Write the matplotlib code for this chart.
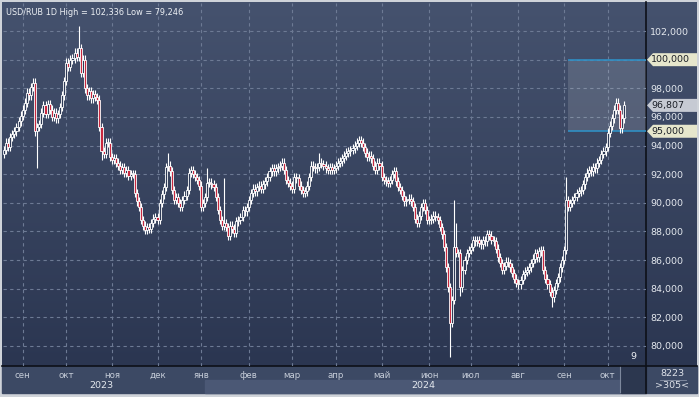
import numpy as np
import pandas as pd
import matplotlib
matplotlib.use('Agg')
import matplotlib.pyplot as plt
from matplotlib.patches import Rectangle, Polygon
from matplotlib.colors import LinearSegmentedColormap

# ---------------- data ----------------
start_date = '2023-08-21'
first_open = 93.4
closes = [
    93.7, 94.2, 93.9, 94.6, 94.8, 95.0, 95.3, 95.7, 96.1, 96.5,
    97.0, 97.7, 97.5, 98.1, 98.4, 95.0, 95.3, 95.5, 96.3, 96.8,
    96.2, 96.9, 96.5, 96.0, 96.3, 95.9, 96.2, 96.7, 97.5, 98.5,
    99.8, 99.5, 100.0, 100.1, 100.5, 100.2, 100.8, 99.1, 100.0, 98.0,
    97.5, 97.8, 97.3, 97.6, 97.4, 97.2, 95.3, 93.6, 93.4, 94.2,
    94.2, 93.2, 93.0, 93.1, 92.8, 92.6, 92.3, 92.5, 92.1, 92.3,
    91.9, 92.0, 92.0, 90.7, 90.1, 89.7, 88.8, 88.4, 88.1, 88.3,
    88.2, 88.6, 88.9, 89.0, 88.8, 90.0, 90.6, 91.1, 92.5, 92.6,
    92.2, 90.9, 90.2, 90.4, 90.0, 89.7, 90.2, 90.5, 90.9, 92.1,
    92.3, 92.0, 91.8, 91.6, 91.2, 89.7, 90.0, 90.4, 91.4, 91.4,
    91.3, 91.1, 90.4, 89.5, 88.8, 88.4, 88.6, 88.3, 87.7, 88.4,
    88.2, 87.9, 88.7, 88.8, 89.0, 89.5, 89.4, 89.7, 90.2, 90.7,
    91.0, 90.8, 91.1, 91.2, 91.0, 91.3, 91.5, 91.8, 92.2, 92.4,
    92.2, 92.4, 92.5, 92.6, 92.8, 92.3, 91.6, 91.4, 91.2, 91.0,
    91.8, 91.7, 91.2, 90.9, 90.7, 90.8, 91.2, 91.8, 92.6, 92.5,
    92.4, 92.5, 92.8, 92.7, 92.6, 92.4, 92.3, 92.5, 92.3, 92.4,
    92.6, 92.8, 92.9, 93.1, 93.3, 93.5, 93.6, 93.7, 93.8, 94.0,
    94.2, 94.4, 94.2, 93.9, 93.5, 93.2, 93.3, 93.1, 92.6, 92.3,
    92.8, 92.6, 91.8, 91.6, 91.5, 91.4, 91.6, 92.0, 92.2, 91.5,
    91.1, 90.9, 90.5, 90.1, 90.2, 90.3, 90.1, 89.7, 88.9, 88.6,
    89.1, 89.7, 90.0, 89.5, 88.8, 88.8, 88.9, 89.1, 89.0, 88.8,
    88.3, 87.8, 86.9, 85.5, 84.1, 81.6, 83.2, 86.9, 86.5, 86.5,
    84.1, 85.3, 86.0, 86.5, 86.7, 86.9, 87.4, 87.3, 87.4, 87.2,
    87.1, 87.4, 87.3, 87.8, 87.7, 87.4, 87.3, 86.8, 86.2, 85.8,
    85.3, 85.6, 85.9, 85.8, 85.5, 85.1, 84.7, 84.4, 84.3, 84.6,
    85.0, 85.2, 85.3, 85.5, 85.8, 86.1, 86.5, 86.2, 86.6, 86.7,
    85.3, 84.7, 84.3, 83.8, 83.4, 83.9, 84.4, 84.8, 85.5, 86.0,
    86.7, 90.2, 89.7, 90.0, 90.2, 90.4, 90.7, 90.8, 90.9, 91.3,
    91.8, 92.1, 92.3, 92.2, 92.5, 92.4, 92.8, 93.0, 93.4, 93.6,
    93.9, 94.9, 95.4, 95.9, 96.5, 97.0, 96.5, 95.2, 95.9, 96.807,
]
wick_highs = {36: 102.336, 79: 93.5, 98: 92.4, 106: 91.7, 152: 93.5,
              217: 90.2, 218: 88.6, 271: 91.8}
wick_lows = {16: 92.4, 47: 93.0, 215: 79.246, 220: 83.5, 264: 82.7}
base_wick = 0.3

levels = [100.0, 95.0]
level_start_idx = 272
y_ticks = list(range(80, 103, 2))
month_names = ['янв', 'фев', 'мар', 'апр', 'май', 'июн',
               'июл', 'авг', 'сен', 'окт', 'ноя', 'дек']
symbol = 'USD/RUB 1D'
bars_count_label = '8223'
visible_label = '>305<'
scroll_label = '9'

# ---------------- derived ----------------
n = len(closes)
dates = pd.bdate_range(start_date, periods=n)
idx = np.arange(n)
opens = [first_open] + closes[:-1]
highs = [wick_highs.get(i, max(o, c) + base_wick) for i, (o, c) in enumerate(zip(opens, closes))]
lows = [wick_lows.get(i, min(o, c) - base_wick) for i, (o, c) in enumerate(zip(opens, closes))]

def fmt(v):
    return f'{v:.3f}'.replace('.', ',')

W, H = 699, 397
fig = plt.figure(figsize=(W / 100, H / 100), dpi=100, facecolor='#cfd3d9')

# background (pixel coords)
bg = fig.add_axes([0, 0, 1, 1], zorder=0)
bg.set_xlim(0, W); bg.set_ylim(H, 0); bg.axis('off')
cmap = LinearSegmentedColormap.from_list('g', ['#45526e', '#2b3651'])
bg.imshow(np.linspace(0, 1, 256).reshape(-1, 1), cmap=cmap, aspect='auto',
          extent=(2, 697, 366, 2), zorder=0)
bg.add_patch(Rectangle((2, 366), 695, 27, color='#3c4964', zorder=1))
bg.add_patch(Rectangle((205, 380), 415, 13, color='#4b5875', zorder=1))
bg.add_patch(Rectangle((621, 362), 25, 31, color='#2c374f', zorder=2))
bg.plot([620, 620], [366, 392], color='#7d889c', lw=0.8, zorder=3)
bg.plot([646, 646], [2, 393], color='#0d1018', lw=1.2, zorder=4)
bg.plot([2, 697], [366, 366], color='#0d1018', lw=1.2, zorder=4)
bg.plot([660, 686], [380, 380], color='#8a94a8', lw=0.6, zorder=4)
bg.text(672, 374, bars_count_label, color='#dfe3ea', fontsize=6.8, ha='center', va='center', zorder=5)
bg.text(672, 386, visible_label, color='#dfe3ea', fontsize=6.8, ha='center', va='center', zorder=5)

# main axes
ax = fig.add_axes([3 / W, 1 - 366 / H, 643 / W, 363 / H], zorder=1)
ax.set_facecolor('none')
ax.set_xlim(-0.5, 309.5)
ax.set_ylim(78.6, 103.96)
for s in ax.spines.values():
    s.set_visible(False)

month_idx = [i for i in range(1, n) if dates[i].month != dates[i - 1].month]
ax.set_xticks(month_idx)
ax.set_xticklabels([month_names[dates[i].month - 1] for i in month_idx])
ax.tick_params(axis='x', length=0, pad=3.5, labelsize=6.2, labelcolor='#c6cdd9')
ax.yaxis.tick_right()
ax.set_yticks(y_ticks)
ax.set_yticklabels([fmt(v) for v in y_ticks])
ax.tick_params(axis='y', length=0, pad=3, labelsize=6.8, labelcolor='#e4e8ee')
ax.grid(True, color='#6d7a94', lw=0.8, linestyle=(0, (3, 3)))
ax.set_axisbelow(True)

# level box
ax.fill_between([level_start_idx, 309.5], levels[1], levels[0], color='white', alpha=0.13, lw=0, zorder=1)
ax.hlines(levels, level_start_idx, 309.5, color='#2f8fc4', lw=1.2, zorder=2)

# candles
ax.vlines(idx, lows, highs, color='white', lw=0.8, zorder=3)
bottoms = [min(o, c) for o, c in zip(opens, closes)]
heights = [max(abs(c - o), 0.08) for o, c in zip(opens, closes)]
fcs = ['#2f3b57' if c >= o else '#c8283f' for o, c in zip(opens, closes)]
ax.bar(idx, heights, bottom=bottoms, width=1.0, color=fcs, edgecolor='white', linewidth=0.6, zorder=4)

# title
ax.text(0.004, 0.985, f'{symbol} High = {fmt(max(highs))} Low = {fmt(min(lows))}',
        transform=ax.transAxes, color='#eef1f5', fontsize=5.9, ha='left', va='top', zorder=6)

# year labels
xt = ax.get_xaxis_transform()
years = sorted(set(d.year for d in dates))
for y in years:
    ii = [i for i in range(n) if dates[i].year == y]
    lo = ii[0] if ii[0] > 0 else -0.5
    hi = ii[-1] if y != years[-1] else 309.5
    ax.text((lo + hi) / 2, -0.055, str(y), transform=xt, color='#e4e8ee',
            fontsize=6.8, ha='center', va='center', clip_on=False)

ax.text(n - 0.5 + 4, 0.027, scroll_label, transform=xt, color='#eef1f5', fontsize=6.8,
        ha='center', va='center', clip_on=False, zorder=6)

# price tags (pixel overlay)
ov = fig.add_axes([0, 0, 1, 1], zorder=3)
ov.set_xlim(0, W); ov.set_ylim(H, 0); ov.axis('off')
def ypx(v):
    return H - ax.transData.transform((0, v))[1]
tags = [(levels[0], '#e6e6cc'), (closes[-1], '#c6cad3'), (levels[1], '#e6e6cc')]
for v, col in tags:
    yy = ypx(v)
    ov.add_patch(Polygon([(647, yy), (653, yy - 6.5), (697, yy - 6.5), (697, yy + 6.5), (653, yy + 6.5)],
                         closed=True, color=col, lw=0))
    ov.text(651, yy, fmt(v), color='#1b1f27', fontsize=6.8, ha='left', va='center')

fig.savefig('out.png', dpi=100, facecolor=fig.get_facecolor())
